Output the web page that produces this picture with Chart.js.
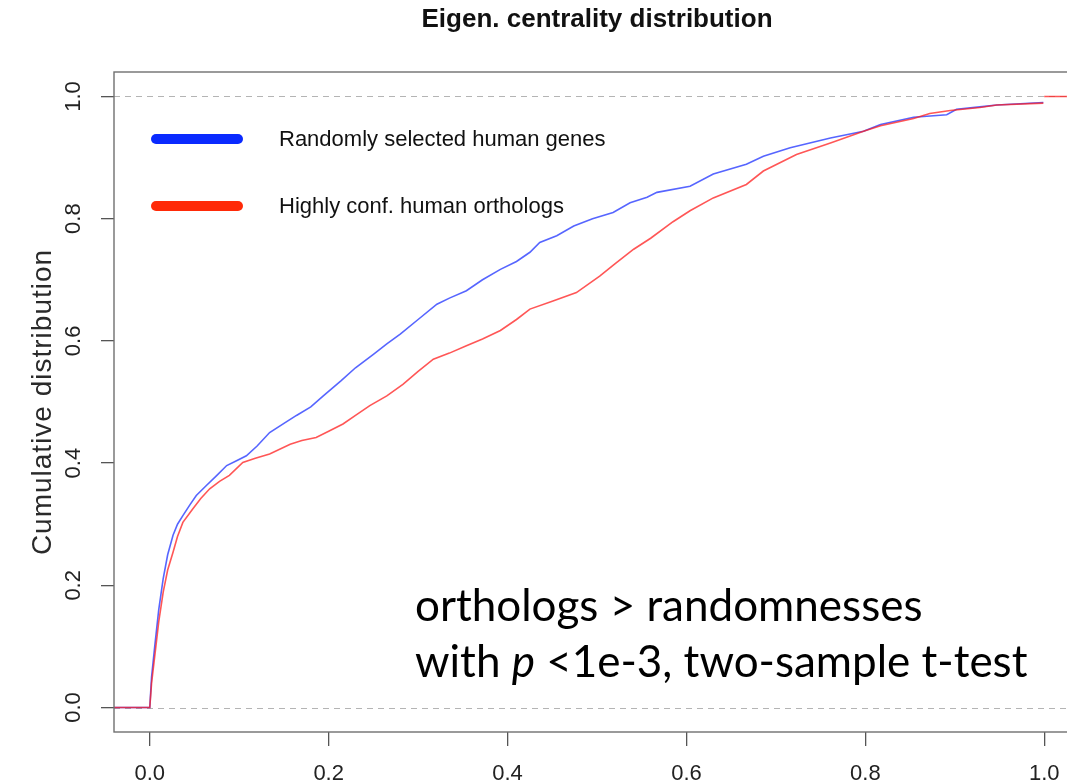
<!DOCTYPE html>
<html>
<head>
<meta charset="utf-8">
<script src="https://cdn.jsdelivr.net/npm/chart.js@4"></script>
<style>
html, body { margin: 0; padding: 0; background: #fff; overflow: hidden; }
canvas { display: block; }
</style>
</head>
<body>
<canvas id="ecdf-chart" width="1090" height="784"></canvas>
<script>
// ECDF of eigenvector centrality
var randomX = [-0.06, 0, 0.002, 0.0056, 0.010, 0.015, 0.020, 0.026, 0.031, 0.037, 0.045, 0.052, 0.063, 0.075, 0.086, 0.097, 0.108, 0.120, 0.134, 0.150, 0.164, 0.180, 0.194, 0.214, 0.230, 0.250, 0.265, 0.280, 0.300, 0.321, 0.335, 0.354, 0.372, 0.392, 0.410, 0.425, 0.436, 0.455, 0.474, 0.495, 0.518, 0.537, 0.556, 0.567, 0.604, 0.630, 0.667, 0.686, 0.716, 0.761, 0.798, 0.817, 0.854, 0.891, 0.902, 0.928, 0.947, 0.999];
var randomY = [0, 0, 0.05, 0.101, 0.16, 0.211, 0.25, 0.282, 0.300, 0.314, 0.332, 0.347, 0.363, 0.380, 0.396, 0.404, 0.412, 0.428, 0.450, 0.465, 0.478, 0.492, 0.510, 0.535, 0.556, 0.578, 0.595, 0.611, 0.635, 0.660, 0.670, 0.682, 0.700, 0.717, 0.730, 0.745, 0.761, 0.772, 0.788, 0.800, 0.810, 0.826, 0.835, 0.843, 0.853, 0.873, 0.889, 0.902, 0.916, 0.932, 0.943, 0.954, 0.966, 0.970, 0.979, 0.983, 0.986, 0.990];

var orthoX = [-0.06, 0, 0.002, 0.006, 0.010, 0.015, 0.020, 0.026, 0.031, 0.037, 0.048, 0.057, 0.067, 0.078, 0.089, 0.104, 0.118, 0.134, 0.157, 0.170, 0.186, 0.200, 0.216, 0.230, 0.246, 0.265, 0.283, 0.300, 0.317, 0.335, 0.354, 0.372, 0.392, 0.410, 0.425, 0.450, 0.477, 0.503, 0.520, 0.541, 0.560, 0.585, 0.604, 0.630, 0.667, 0.686, 0.723, 0.761, 0.798, 0.817, 0.854, 0.872, 0.895, 0.928, 0.947, 0.999, 1.0, 1.0, 1.06];
var orthoY = [0, 0, 0.04, 0.09, 0.14, 0.189, 0.225, 0.254, 0.280, 0.303, 0.325, 0.342, 0.358, 0.370, 0.380, 0.401, 0.408, 0.415, 0.431, 0.437, 0.442, 0.452, 0.464, 0.478, 0.494, 0.510, 0.529, 0.550, 0.570, 0.580, 0.592, 0.603, 0.617, 0.635, 0.652, 0.665, 0.679, 0.706, 0.726, 0.750, 0.768, 0.795, 0.813, 0.834, 0.856, 0.878, 0.905, 0.924, 0.943, 0.952, 0.964, 0.972, 0.977, 0.982, 0.986, 0.989, null, 1, 1];

var xTicks = [0, 0.2, 0.4, 0.6, 0.8, 1.0];
var yTicks = [0, 0.2, 0.4, 0.6, 0.8, 1.0];
var seriesNames = ["Randomly selected human genes", "Highly conf. human orthologs"];
var chartTitle = "Eigen. centrality distribution";
var yTitle = "Cumulative distribution";

function toPoints(xs, ys) {
  var pts = [];
  for (var i = 0; i < xs.length; i++) pts.push({ x: xs[i], y: ys[i] });
  return pts;
}

var axisFont = '"Liberation Sans", Arial, sans-serif';

var rPlotLook = {
  id: 'rPlotLook',
  beforeDatasetsDraw: function (chart) {
    var ctx = chart.ctx, a = chart.chartArea, ys = chart.scales.y;
    ctx.save();
    ctx.strokeStyle = '#b4b4b4';
    ctx.lineWidth = 1.2;
    ctx.setLineDash([6, 5]);
    [0, 1].forEach(function (v) {
      var py = Math.round(ys.getPixelForValue(v)) + 0.5;
      ctx.beginPath();
      ctx.moveTo(a.left, py);
      ctx.lineTo(a.right, py);
      ctx.stroke();
    });
    ctx.restore();
  },
  afterDraw: function (chart) {
    var ctx = chart.ctx, a = chart.chartArea, ys = chart.scales.y;
    ctx.save();

    // box round the plot region
    ctx.strokeStyle = '#707070';
    ctx.lineWidth = 1.4;
    ctx.strokeRect(a.left, a.top, a.right - a.left, a.bottom - a.top);

    // title
    ctx.fillStyle = '#111';
    ctx.font = 'bold 26px ' + axisFont;
    ctx.textAlign = 'center';
    ctx.textBaseline = 'alphabetic';
    ctx.fillText(chartTitle, (a.left + a.right) / 2, 27);

    // y tick labels, rotated like R does
    ctx.font = '22px ' + axisFont;
    ctx.fillStyle = '#222';
    ctx.textBaseline = 'middle';
    yTicks.forEach(function (v) {
      ctx.save();
      ctx.translate(74, ys.getPixelForValue(v));
      ctx.rotate(-Math.PI / 2);
      ctx.fillText(v.toFixed(1), 0, 0);
      ctx.restore();
    });

    // y axis title
    ctx.save();
    ctx.font = '28px ' + axisFont;
    ctx.letterSpacing = '1px';
    ctx.fillStyle = '#2a2a2a';
    ctx.translate(43, (a.top + a.bottom) / 2);
    ctx.rotate(-Math.PI / 2);
    ctx.fillText(yTitle, 0, 0);
    ctx.restore();

    // legend
    var legendY = [139, 206];
    chart.data.datasets.forEach(function (ds) {
      var row = ds.legendRow;
      ctx.strokeStyle = ds.legendColor;
      ctx.lineWidth = 10;
      ctx.lineCap = 'round';
      ctx.beginPath();
      ctx.moveTo(156, legendY[row]);
      ctx.lineTo(238, legendY[row]);
      ctx.stroke();
      ctx.fillStyle = '#111';
      ctx.font = '22px ' + axisFont;
      ctx.textAlign = 'left';
      ctx.fillText(ds.label, 279, legendY[row] + 1);
    });

    // note on the test result
    var noteFont = '"Lato", "Open Sans", sans-serif';
    ctx.fillStyle = '#000';
    ctx.textAlign = 'left';
    ctx.textBaseline = 'alphabetic';
    ctx.font = '44px ' + noteFont;
    ctx.fillText('orthologs > randomnesses', 415, 621);
    var nx = 415;
    ctx.fillText('with ', nx, 677);
    nx += ctx.measureText('with ').width;
    ctx.font = 'italic 44px ' + noteFont;
    ctx.fillText('p', nx, 677);
    nx += ctx.measureText('p').width;
    ctx.font = '44px ' + noteFont;
    ctx.fillText(' <1e-3, two-sample t-test', nx, 677);

    ctx.restore();
  }
};

new Chart(document.getElementById('ecdf-chart'), {
  type: 'line',
  data: {
    datasets: [
      {
        label: seriesNames[1],
        data: toPoints(orthoX, orthoY),
        borderColor: 'rgba(255, 30, 30, 0.75)',
        legendColor: '#ff2a08',
        legendRow: 1,
        borderWidth: 1.6,
        pointRadius: 0,
        tension: 0,
        spanGaps: false
      },
      {
        label: seriesNames[0],
        data: toPoints(randomX, randomY),
        borderColor: 'rgba(30, 50, 255, 0.75)',
        legendColor: '#0a2aff',
        legendRow: 0,
        borderWidth: 1.6,
        pointRadius: 0,
        tension: 0
      }
    ]
  },
  options: {
    responsive: false,
    animation: false,
    layout: { padding: { left: 0, right: 10, top: 72, bottom: 0 } },
    plugins: {
      legend: { display: false },
      title: { display: false },
      tooltip: { enabled: false }
    },
    scales: {
      x: {
        type: 'linear',
        min: -0.04,
        max: 1.04,
        afterBuildTicks: function (scale) {
          scale.ticks = xTicks.map(function (v) { return { value: v }; });
        },
        afterFit: function (scale) { scale.height = 52; },
        grid: { drawOnChartArea: false, drawTicks: true, tickLength: 14, color: '#555', lineWidth: 1.3 },
        border: { display: false },
        ticks: {
          padding: 15,
          maxRotation: 0,
          color: '#222',
          font: { family: axisFont, size: 22 },
          callback: function (v) { return v.toFixed(1); }
        }
      },
      y: {
        type: 'linear',
        min: -0.04,
        max: 1.04,
        afterBuildTicks: function (scale) {
          scale.ticks = yTicks.map(function (v) { return { value: v }; });
        },
        afterFit: function (scale) { scale.width = 114; },
        grid: { drawOnChartArea: false, drawTicks: true, tickLength: 13, color: '#555', lineWidth: 1.3 },
        border: { display: false },
        ticks: { display: false }
      }
    }
  },
  plugins: [rPlotLook]
});
</script>
</body>
</html>
